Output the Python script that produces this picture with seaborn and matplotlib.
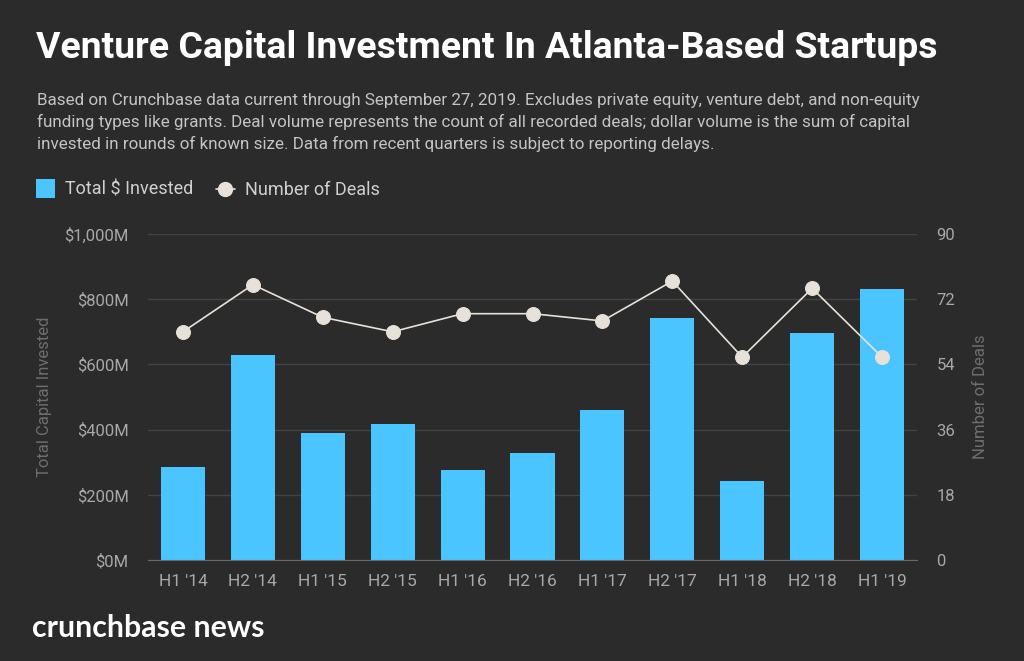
import matplotlib
matplotlib.use("Agg")
import matplotlib.pyplot as plt
import seaborn as sns
import pandas as pd
from matplotlib.lines import Line2D
from matplotlib.patches import Rectangle

periods = ["H1 '14","H2 '14","H1 '15","H2 '15","H1 '16","H2 '16","H1 '17","H2 '17","H1 '18","H2 '18","H1 '19"]
invested = [284,628,390,417,277,328,460,742,241,695,830]
deals = [63,76,67,63,68,68,66,77,56,75,56]
y_left = [0,200,400,600,800,1000]
y_right = [0,18,36,54,72,90]
BG = "#2b2b2b"
BLUE = "#4ac5ff"
CREAM = "#e8e1da"
sns.set_theme(style="dark")
plt.rcParams['font.family'] = ['Roboto','DejaVu Sans']
df = pd.DataFrame({"period":periods,"invested":invested,"deals":deals})

fig = plt.figure(figsize=(10.24,6.61),dpi=100,facecolor=BG)
ax = fig.add_axes([148/1024,1-560/661,(917-148)/1024,(560-234)/661],facecolor=BG)
sns.barplot(data=df,x="period",y="invested",color=BLUE,saturation=1,width=0.63,linewidth=0,ax=ax,zorder=2)
ax.set_xlim(-0.5,10.5)
ax.set_ylim(0,1000)
ax.set_yticks(y_left,[f"${v:,}M" for v in y_left])
ax.grid(axis="y",color="#434343",lw=1,zorder=0)
ax.grid(axis="x",visible=False)
ax.set_axisbelow(True)
for s in ax.spines.values(): s.set_visible(False)
ax.spines["bottom"].set_visible(True); ax.spines["bottom"].set_color("#6a6a6a"); ax.spines["bottom"].set_linewidth(0.8)
ax.tick_params(axis="y",length=0,labelsize=12,labelcolor="#a8a8a8",pad=14)
ax.tick_params(axis="x",length=0,labelsize=12.5,labelcolor="#a8a8a8",pad=10)
ax.set_xlabel("")
ax.set_ylabel("Total Capital Invested",fontsize=12,color="#6e6e6e")
ax.yaxis.set_label_coords((52-148)/769,0.5)

ax2 = ax.twinx()
ax2.set_ylim(0,90)
ax2.set_yticks(y_right,[str(v) for v in y_right])
ax2.grid(False)
for s in ax2.spines.values(): s.set_visible(False)
ax2.tick_params(axis="y",length=0,labelsize=12,labelcolor="#a8a8a8",pad=14)
sns.lineplot(data=df,x="period",y="deals",ax=ax2,color=CREAM,lw=1.2,marker="o",markersize=10,
             markeredgecolor=CREAM,sort=False,errorbar=None)
ax2.set_xlabel("")
ax2.set_ylabel("Number of Deals",fontsize=12,color="#6e6e6e")
ax2.yaxis.set_label_coords((973-148)/769,0.5)

fig.text(36/1024,1-47.5/661,"Venture Capital Investment In Atlanta-Based Startups",color="white",fontsize=26.9,fontweight="bold",va="center")
sub = ["Based on Crunchbase data current through September 27, 2019. Excludes private equity, venture debt, and non-equity",
       "funding types like grants. Deal volume represents the count of all recorded deals; dollar volume is the sum of capital",
       "invested in rounds of known size. Data from recent quarters is subject to reporting delays."]
for y,t in zip([100,122,144],sub):
    fig.text(37/1024,1-y/661,t,color="#c4c4c4",fontsize=12.25,va="center")

fig.add_artist(Rectangle((36/1024,1-198/661),19/1024,19/661,transform=fig.transFigure,color=BLUE,lw=0))
fig.text(65/1024,1-190/661,"Total $ Invested",color="#d0d0d0",fontsize=13,va="center")
fig.add_artist(Line2D([216/1024,235/1024],[1-189/661]*2,color=CREAM,lw=1.2,transform=fig.transFigure))
fig.add_artist(Line2D([225/1024],[1-189/661],color=CREAM,marker="o",markersize=10,transform=fig.transFigure))
fig.text(245/1024,1-190/661,"Number of Deals",color="#d0d0d0",fontsize=13,va="center")

fig.text(32/1024,1-628/661,"crunchbase news",color="white",fontsize=21.8,family=["Lato","DejaVu Sans"],fontweight="bold",va="center")
fig.savefig("out.png",dpi=100,facecolor=BG)
